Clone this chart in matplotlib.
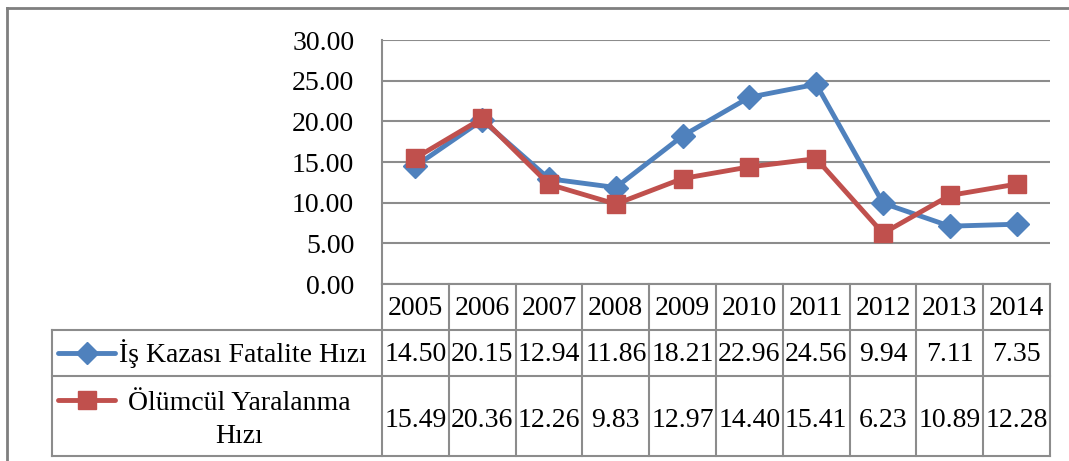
import matplotlib
matplotlib.use("Agg")
import matplotlib.pyplot as plt
from matplotlib.lines import Line2D

years = ["2005", "2006", "2007", "2008", "2009", "2010", "2011", "2012", "2013", "2014"]
fatalite = [14.50, 20.15, 12.94, 11.86, 18.21, 22.96, 24.56, 9.94, 7.11, 7.35]
olumcul = [15.49, 20.36, 12.26, 9.83, 12.97, 14.40, 15.41, 6.23, 10.89, 12.28]
series_names = ["İş Kazası Fatalite Hızı", "Ölümcül Yaralanma\nHızı"]
yticks = [0, 5, 10, 15, 20, 25, 30]

BLUE = "#4F81BD"
RED = "#C0504D"
GRID = "#8C8C8C"
FONT = "Liberation Serif"
FS = 20

W, H = 1069, 461
fig = plt.figure(figsize=(W / 100, H / 100), dpi=100)

# pixel layout of plot area and table
px_left, px_right, px_top, px_zero = 382, 1050, 40, 284
row_lines = [284, 330, 376, 456]
lab_left = 52

ax = fig.add_axes([px_left / W, 1 - px_zero / H, (px_right - px_left) / W, (px_zero - px_top) / H])
n = len(years)
x = list(range(n))
ax.set_xlim(-0.5, n - 0.5)
ax.set_ylim(0, 30)
ax.set_yticks(yticks)
ax.set_yticklabels([f"{v:.2f}" for v in yticks], fontsize=FS, family=FONT)
ax.tick_params(axis="y", length=0, pad=20)
ax.set_xticks([])
for v in yticks:
    ax.axhline(v, color=GRID, lw=1.5, zorder=1)
for s in ["top", "right", "bottom"]:
    ax.spines[s].set_visible(False)
ax.spines["left"].set_color(GRID)
ax.spines["left"].set_linewidth(1.5)

ax.plot(x, fatalite, color=BLUE, lw=3.5, marker="D", ms=12.5, mec=BLUE, mfc=BLUE, zorder=3, clip_on=False)
ax.plot(x, olumcul, color=RED, lw=3.5, marker="s", ms=13.5, mec=RED, mfc=RED, zorder=4, clip_on=False)

# table overlay in pixel coordinates
tab = fig.add_axes([0, 0, 1, 1], facecolor="none")
tab.set_xlim(0, W)
tab.set_ylim(H, 0)
tab.axis("off")

cw = (px_right - px_left) / n
col_edges = [px_left + cw * i for i in range(n + 1)]

# outer chart frame
tab.add_line(Line2D([7, W], [8, 8], color="#7F7F7F", lw=2))
tab.add_line(Line2D([7, 7], [8, H], color="#7F7F7F", lw=2))

# horizontal table lines
tab.add_line(Line2D([px_left, px_right], [row_lines[0]] * 2, color=GRID, lw=1.5))
for y in row_lines[1:]:
    tab.add_line(Line2D([lab_left, px_right], [y] * 2, color=GRID, lw=1.5))
# vertical table lines
for xe in col_edges:
    tab.add_line(Line2D([xe, xe], [row_lines[0], row_lines[3]], color=GRID, lw=1.5))
tab.add_line(Line2D([lab_left, lab_left], [row_lines[1], row_lines[3]], color=GRID, lw=1.5))

tk = dict(fontsize=FS, family=FONT, ha="center", va="center", color="black")
for i in range(n):
    cx = px_left + cw * (i + 0.5)
    tab.text(cx, (row_lines[0] + row_lines[1]) / 2 + 1, years[i], **tk)
    tab.text(cx, (row_lines[1] + row_lines[2]) / 2 + 1, f"{fatalite[i]:.2f}", **tk)
    tab.text(cx, (row_lines[2] + row_lines[3]) / 2 + 4, f"{olumcul[i]:.2f}", **tk)

# legend keys in row labels
y1 = (row_lines[1] + row_lines[2]) / 2
y2 = 400
tab.add_line(Line2D([58, 115], [y1, y1], color=BLUE, lw=3.5, solid_capstyle="round"))
tab.add_line(Line2D([86.5], [y1], color=BLUE, marker="D", ms=11.5, mec=BLUE, mfc=BLUE, lw=0))
tab.add_line(Line2D([58, 115], [y2, y2], color=RED, lw=3.5, solid_capstyle="round"))
tab.add_line(Line2D([86.5], [y2], color=RED, marker="s", ms=12.5, mec=RED, mfc=RED, lw=0))

tab.text(119, y1 + 1, series_names[0], fontsize=FS, family=FONT, ha="left", va="center")
tab.text(239, 420, series_names[1], fontsize=FS, family=FONT, ha="center", va="center",
         multialignment="center", linespacing=1.4)

fig.savefig("out.png", dpi=100)
